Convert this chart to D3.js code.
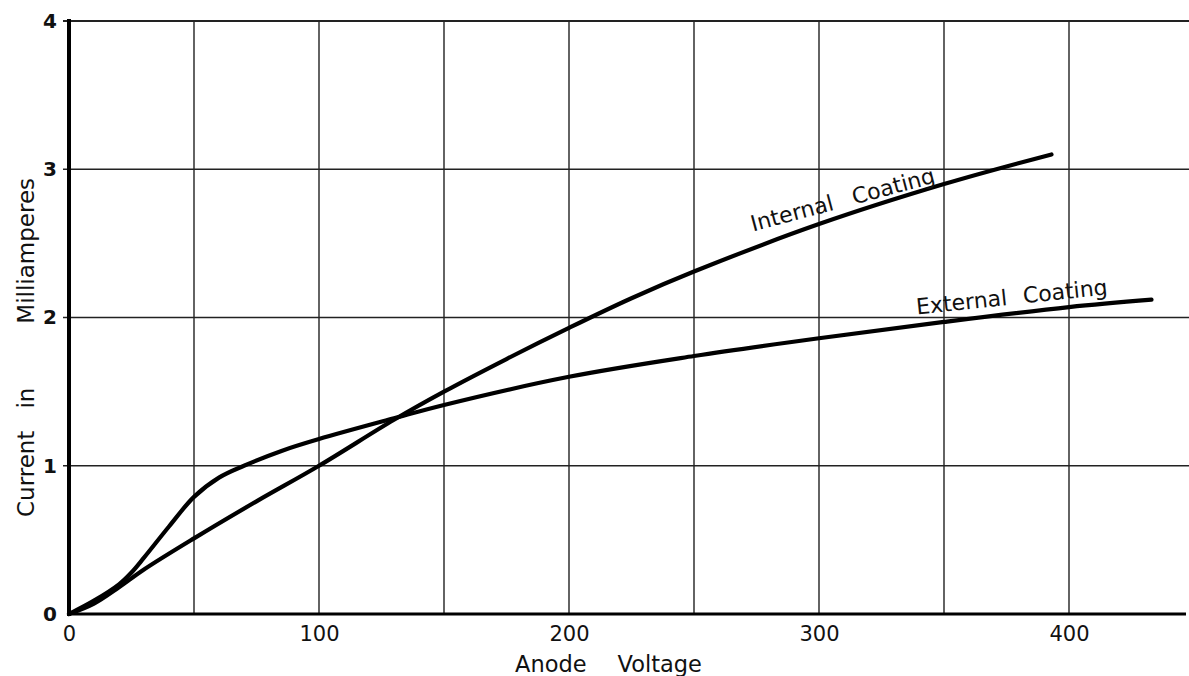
<!DOCTYPE html>
<html><head><meta charset="utf-8">
<script src="https://cdn.jsdelivr.net/npm/d3@7"></script>
<style>body{margin:0;background:#fff}svg{display:block}text{font-family:"DejaVu Sans","Liberation Sans",sans-serif;fill:#111}</style>
</head><body><svg id="c" width="1189" height="676"></svg>
<script>
const xTicks = [0, 100, 200, 300, 400];
const yTicks = [0, 1, 2, 3, 4];
const xGrid = [50, 100, 150, 200, 250, 300, 350, 400];
const yGrid = [1, 2, 3, 4];
const internalV = [0, 10, 20, 30, 50, 75, 100, 130, 150, 175, 200, 225, 250, 300, 350, 393];
const internalI = [0, 0.07, 0.18, 0.3, 0.51, 0.76, 1.0, 1.31, 1.5, 1.72, 1.93, 2.13, 2.31, 2.63, 2.9, 3.1];
const externalV = [0, 10, 20, 25, 30, 40, 50, 60, 70, 85, 100, 130, 150, 200, 250, 300, 350, 400, 433];
const externalI = [0, 0.09, 0.2, 0.28, 0.38, 0.59, 0.79, 0.92, 1.0, 1.1, 1.18, 1.32, 1.41, 1.6, 1.74, 1.86, 1.97, 2.07, 2.12];
const xTitleWords = ["Anode", "Voltage"];
const yTitleWords = ["Current", "in", "Milliamperes"];
const curveLabels = {internal: ["Internal", "Coating"], external: ["External", "Coating"]};

const svg = d3.select("#c");
const x = d3.scaleLinear().domain([0, 446]).range([69, 1184]);
const y = d3.scaleLinear().domain([0, 4]).range([614, 21]);

// grid
svg.append("g").selectAll("line").data(xGrid).join("line")
  .attr("x1", d => x(d)).attr("x2", d => x(d)).attr("y1", y(0)).attr("y2", y(4))
  .attr("stroke", "#222").attr("stroke-width", 1.4);
svg.append("g").selectAll("line").data(yGrid).join("line")
  .attr("x1", x(0) - 6).attr("x2", 1189).attr("y1", d => y(d)).attr("y2", d => y(d))
  .attr("stroke", "#222").attr("stroke-width", d => d === 4 ? 2.2 : 1.5);

// axes lines
svg.append("line").attr("x1", x(0)).attr("x2", x(0)).attr("y1", y(4) - 2).attr("y2", y(0) + 2)
  .attr("stroke", "#000").attr("stroke-width", 4);
svg.append("line").attr("x1", x(0)).attr("x2", 1186).attr("y1", y(0)).attr("y2", y(0))
  .attr("stroke", "#000").attr("stroke-width", 3.2);

// axes with d3 for tick labels
const xAxis = svg.append("g").attr("transform", `translate(0,${y(0)})`)
  .call(d3.axisBottom(x).tickValues(xTicks).tickSize(0).tickPadding(12).tickFormat(d3.format("d")));
xAxis.select(".domain").remove();
xAxis.selectAll("text").attr("font-size", 21).attr("font-family", "DejaVu Sans").attr("fill", "#111");
const yAxis = svg.append("g").attr("transform", `translate(${x(0)},0)`)
  .call(d3.axisLeft(y).tickValues(yTicks).tickSize(0).tickPadding(12).tickFormat(d3.format("d")));
yAxis.select(".domain").remove();
yAxis.selectAll("text").attr("font-size", 20).attr("font-weight", "bold").attr("font-family", "DejaVu Sans").attr("fill", "#111");

// curves
const line = d3.line().x(d => x(d[0])).y(d => y(d[1])).curve(d3.curveCatmullRom.alpha(0.5));
svg.append("path").datum(internalV.map((v, i) => [v, internalI[i]]))
  .attr("d", line).attr("fill", "none").attr("stroke", "#000").attr("stroke-width", 4.2).attr("stroke-linecap", "round");
svg.append("path").datum(externalV.map((v, i) => [v, externalI[i]]))
  .attr("d", line).attr("fill", "none").attr("stroke", "#000").attr("stroke-width", 4.2).attr("stroke-linecap", "round");

function words(sel, list, gaps) {
  sel.selectAll("tspan").data(list).join("tspan")
    .attr("dx", (d, i) => i === 0 ? 0 : gaps[i - 1]).text(d => d);
}
// curve labels
words(svg.append("text").attr("transform", `translate(${x(273.6)},${y(2.58)}) rotate(-15)`)
  .attr("font-size", 22), curveLabels.internal, [20]);
words(svg.append("text").attr("transform", `translate(${x(339.2)},${y(2.02)}) rotate(-6)`)
  .attr("font-size", 22), curveLabels.external, [16]);

// axis titles
words(svg.append("text").attr("x", 515).attr("y", 672).attr("font-size", 22.5), xTitleWords, [31]);
words(svg.append("text").attr("transform", `translate(34,517) rotate(-90)`).attr("font-size", 23),
  yTitleWords, [22, 64]);
</script></body></html>
